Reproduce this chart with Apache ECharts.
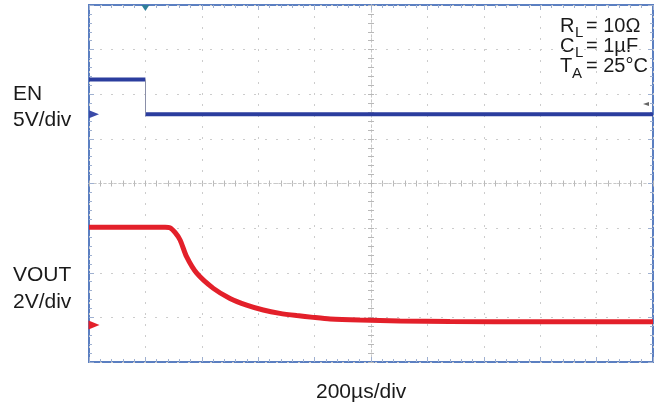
<!DOCTYPE html>
<html>
<head>
<meta charset="utf-8">
<script src="https://cdn.jsdelivr.net/npm/echarts@6/dist/echarts.min.js"></script>
<style>
  html, body { margin: 0; padding: 0; background: #fff; }
  #chart { width: 664px; height: 407px; }
</style>
</head>
<body>
<div id="chart"></div>
<script>
// time in microseconds, 200 us per division, 10 divisions
const enTime = [0, 200, 200, 2000];
const enVolts = [3.9, 3.9, 0, 0];
const voutTime = [0, 270, 287, 305, 323, 346, 382, 441, 500, 559, 618, 677, 737, 795, 855, 961, 1103, 1280, 1600, 2000];
const voutVolts = [4.38, 4.38, 4.36, 4.15, 3.81, 3.06, 2.32, 1.64, 1.19, 0.89, 0.67, 0.52, 0.42, 0.34, 0.27, 0.22, 0.18, 0.16, 0.14, 0.14];

// channel settings (volts per div, ground position in divisions from center)
const enScale = 5, enGround = 1.55;
const voutScale = 2, voutGround = -3.17;
const triggerTime = 200, triggerLevel = 1.15;

const toDiv = (t, v, scale, ground) => t.map((x, i) => [x, ground + v[i] / scale]);

// the fast EN edge is drawn faint on the scope, so break the trace there
const enPoints = toDiv(enTime, enVolts, enScale, enGround);
const enData = [];
const enEdges = [];
enPoints.forEach((p, i) => {
    const prev = enPoints[i - 1];
    if (prev && prev[0] === p[0]) {
        enData.push('-');
        enEdges.push([{ coord: prev }, { coord: p }]);
    }
    enData.push(p);
});

const chart = echarts.init(document.getElementById('chart'));

const tickColor = '#9fb0d0';
const font = 'Arial, "Liberation Sans", sans-serif';
const txt = '#1a1a1a';

function edgeAxis(position, extra) {
    return Object.assign({
        type: 'value',
        position: position,
        axisLine: { show: false, onZero: false },
        axisLabel: { show: false },
        axisTick: { show: true, inside: true, length: 5, lineStyle: { color: tickColor } },
        minorTick: { show: true, splitNumber: 5, length: 3, lineStyle: { color: tickColor } },
        splitLine: { show: false }
    }, extra);
}

// center cross lines with ticks on both sides
function centerAxis(inside, zeroIndex, extra) {
    return Object.assign({
        type: 'value',
        axisLine: { show: true, onZero: true, onZeroAxisIndex: zeroIndex, lineStyle: { color: '#c8c8c8', type: [2, 3] } },
        axisLabel: { show: false },
        axisTick: { show: true, inside: inside, length: 3, lineStyle: { color: '#b8b8b8' } },
        minorTick: { show: true, splitNumber: 5, length: 3, lineStyle: { color: '#b8b8b8' } },
        splitLine: { show: false }
    }, extra);
}

function label(text, left, top, size) {
    return { type: 'text', left: left, top: top, style: { text: text, font: size + 'px ' + font, fill: txt } };
}

const xRange = { min: 0, max: 2000, interval: 200 };
const yRange = { min: -4, max: 4, interval: 1 };

const option = {
    animation: false,
    grid: {
        left: 89, top: 5, width: 564, height: 357,
        show: true, borderColor: '#5b7fc1', borderWidth: 2, backgroundColor: '#ffffff'
    },
    xAxis: [
        edgeAxis('bottom', Object.assign({
            splitLine: { show: true, lineStyle: { color: '#cccccc', type: [2, 9] } }
        }, xRange)),
        edgeAxis('top', xRange),
        centerAxis(true, 0, xRange),
        centerAxis(false, 0, xRange),
        // divisions counted from screen center, used to place the vertical center line
        { type: 'value', min: -5, max: 5, show: false }
    ],
    yAxis: [
        edgeAxis('left', Object.assign({
            splitLine: { show: true, lineStyle: { color: '#cccccc', type: [2, 9] } }
        }, yRange)),
        edgeAxis('right', yRange),
        centerAxis(true, 4, yRange),
        centerAxis(false, 4, yRange)
    ],
    series: [
        {
            name: 'EN',
            type: 'line',
            data: enData,
            connectNulls: false,
            showSymbol: false,
            lineStyle: { color: '#2b3d9e', width: 4 },
            markLine: {
                silent: true,
                symbol: 'none',
                label: { show: false },
                lineStyle: { color: '#8a8fa8', width: 1, type: 'solid' },
                data: enEdges
            },
            markPoint: {
                silent: true,
                label: { show: false },
                data: [
                    { coord: [0, enGround], symbol: 'triangle', symbolSize: [8, 10], symbolRotate: -90,
                      symbolOffset: [5, 0], itemStyle: { color: '#3a4aa8' } },
                    { coord: [triggerTime, 4], symbol: 'triangle', symbolSize: [8, 6], symbolRotate: 180,
                      symbolOffset: [0, 3], itemStyle: { color: '#2f7f9a' } },
                    { coord: [2000, enGround + triggerLevel / enScale], symbol: 'triangle', symbolSize: [4, 6],
                      symbolRotate: 90, symbolOffset: [-7, 0], itemStyle: { color: '#666' } }
                ]
            }
        },
        {
            name: 'VOUT',
            type: 'line',
            data: toDiv(voutTime, voutVolts, voutScale, voutGround),
            showSymbol: false,
            smooth: 0.25,
            lineStyle: { color: '#e3202a', width: 5 },
            markPoint: {
                silent: true,
                label: { show: false },
                data: [
                    { coord: [0, voutGround], symbol: 'triangle', symbolSize: [9, 11], symbolRotate: -90,
                      symbolOffset: [5, 0], itemStyle: { color: '#e3202a' } }
                ]
            }
        }
    ],
    graphic: [
        label('EN', 13, 84, 21),
        label('5V/div', 13, 110, 21),
        label('VOUT', 13, 265, 21),
        label('2V/div', 13, 292, 21),
        label('200\u00b5s/div', 316, 382, 21),
        // test conditions, top right
        label('R', 560, 16, 20),
        label('L', 575, 25, 15),
        label('= 10\u03a9', 586, 16, 20),
        label('C', 560, 36, 20),
        label('L', 575, 45, 15),
        label('= 1\u00b5F', 586, 36, 20),
        label('T', 560, 56, 20),
        label('A', 572, 66, 15),
        label('= 25\u00b0C', 586, 56, 20)
    ]
};

chart.setOption(option);
</script>
</body>
</html>
